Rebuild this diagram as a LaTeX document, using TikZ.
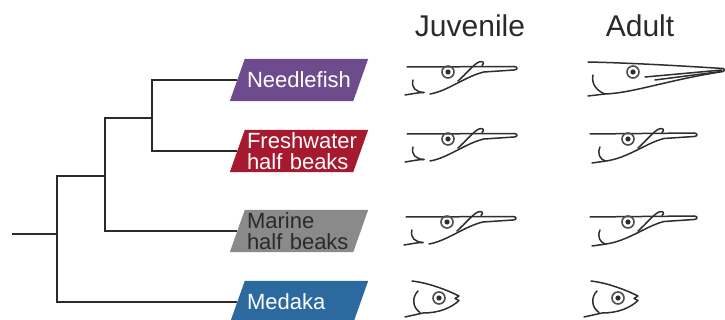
\documentclass[tikz,border=0pt]{standalone}
\usepackage{fontspec}
\setmainfont{Liberation Sans}
\usetikzlibrary{calc,backgrounds}
\definecolor{needlepurple}{HTML}{6D4B8D}
\definecolor{fwred}{HTML}{A61A30}
\definecolor{marinegray}{HTML}{8A8A8A}
\definecolor{medakablue}{HTML}{2B699E}
\definecolor{treeink}{HTML}{2A2A2A}
\definecolor{fishink}{HTML}{2E2E2E}
\tikzset{
  clade/.style={minimum width=123pt, minimum height=42pt, inner sep=0pt,
    text width=104pt, align=left, font=\fontsize{22}{21}\selectfont, text=white},
  branch/.style={line width=1.8pt, draw=treeink},
  head/.style={font=\fontsize{30}{36}\selectfont, text=treeink, anchor=base},
  fl/.style={line width=1.5pt, draw=fishink, line cap=round, line join=round},
  eyering/.style={line width=1.6pt, draw=fishink!85},
  % eye drawn at the pic origin
  eye/.pic={\draw[eyering] (0,0) circle (6); \fill[fishink] (0,0) circle (2.6);},
  % half beak shaped head, open gill (juvenile)
  juvhead/.pic={
    \draw[fl] (-41,-5) -- (66,-5.5) .. controls (70,-5.5) and (70,-2) .. (66,-2) -- (36,0);
    \draw[fl] (-18,22) .. controls (0,19) and (18,4) .. (36,0);
    \draw[fl] (10,9) .. controls (18,2) and (26,-8) .. (31,-10) .. controls (35,-11.5) and (37,-9) .. (34,-6.5);
    \draw[fl] (-35,8) .. controls (-37,16) and (-32,20) .. (-24,20.5);
    \draw[fl] (-43,23) .. controls (-36,22) and (-30,20.5) .. (-24,20.5);
    \pic {eye};
  },
  % half beak shaped head, closed gill
  adulthead/.pic={
    \draw[fl] (-38,-5) -- (66,-6) .. controls (70,-6) and (70,-2.5) .. (66,-2.5) -- (36,-0.5);
    \draw[fl] (-36,24) -- (-22,22) .. controls (0,19) and (18,4) .. (36,-0.5);
    \draw[fl] (10,9) .. controls (18,2) and (26,-8) .. (31,-10) .. controls (35,-11.5) and (37,-9) .. (34,-6.5);
    \draw[fl] (-28,8) .. controls (-31,15) and (-28,20) .. (-23,22);
    \pic {eye};
  },
  % long needle beak
  needlehead/.pic={
    \draw[fl] (-45,-10) .. controls (0,-9) and (50,-6) .. (90,-3.5) .. controls (92.5,-3.5) and (92.5,-0.5) .. (90,-0.5);
    \draw[fl] (12,5) -- (89,-2);
    \draw[fl] (22,8) -- (88,-0.5);
    \draw[fl] (-45,24) -- (-28,22) .. controls (0,21) and (35,8) .. (90,-0.5);
    \draw[fl] (-40,3) .. controls (-42,12) and (-36,19) .. (-28,22);
    \pic {eye};
  },
  % short round snout
  medakahead/.pic={
    \draw[fl] (-27,-17) .. controls (-10,-15) and (8,-8) .. (20,-2) -- (16,0.5) -- (20,2.5)
      .. controls (12,10) and (0,15) .. (-16,15) -- (-34,19);
    \draw[fl] (-21,-7) .. controls (-27,-1) and (-27,9) .. (-19,14.5);
    \pic {eye};
  },
}
\begin{document}
\begin{tikzpicture}[x=1pt, y=-1pt]
  \useasboundingbox (0,0) rectangle (725,320);
  % column titles
  \node[head] (juv) at (470,37) {Juvenile};
  \node[head] (adu) at (640,37) {Adult};
  % taxa
  \node[clade] (needle) at (299,80) {Needlefish};
  \node[clade] (fresh) at (299,151) {Freshwater\\half beaks};
  \node[clade, text=treeink] (marine) at (299,231) {Marine\\half beaks};
  \node[clade] (medaka) at (299,302) {Medaka};
  % slanted label plates
  \begin{scope}[on background layer]
    \foreach \n/\c in {needle/needlepurple, fresh/fwred, marine/marinegray, medaka/medakablue}
      \fill[\c] ($(\n.north west)+(7.5,0)$) -- ($(\n.north east)+(7.5,0)$)
        -- ($(\n.south east)+(-7.5,0)$) -- ($(\n.south west)+(-7.5,0)$) -- cycle;
  \end{scope}
  % tree
  \coordinate (root) at (12,234);
  \coordinate (c0) at (57,234);
  \coordinate (c1) at (105,176);
  \coordinate (c2) at (152,118);
  \draw[branch] (root) -- (c0) |- (c1) |- (c2) |- (needle);
  \draw[branch] (c2) |- (fresh);
  \draw[branch] (c1) |- (marine);
  \draw[branch] (c0) |- (medaka);
  % heads
  \pic (jneedle) at (448,72) {juvhead};
  \pic (aneedle) at (633,72) {needlehead};
  \pic (jfresh) at (448,139) {juvhead};
  \pic (afresh) at (628,139) {adulthead};
  \pic (jmarine) at (447,222) {juvhead};
  \pic (amarine) at (628,222) {adulthead};
  \pic (jmedaka) at (439,298) {medakahead};
  \pic (amedaka) at (618,298) {medakahead};
\end{tikzpicture}
\end{document}
